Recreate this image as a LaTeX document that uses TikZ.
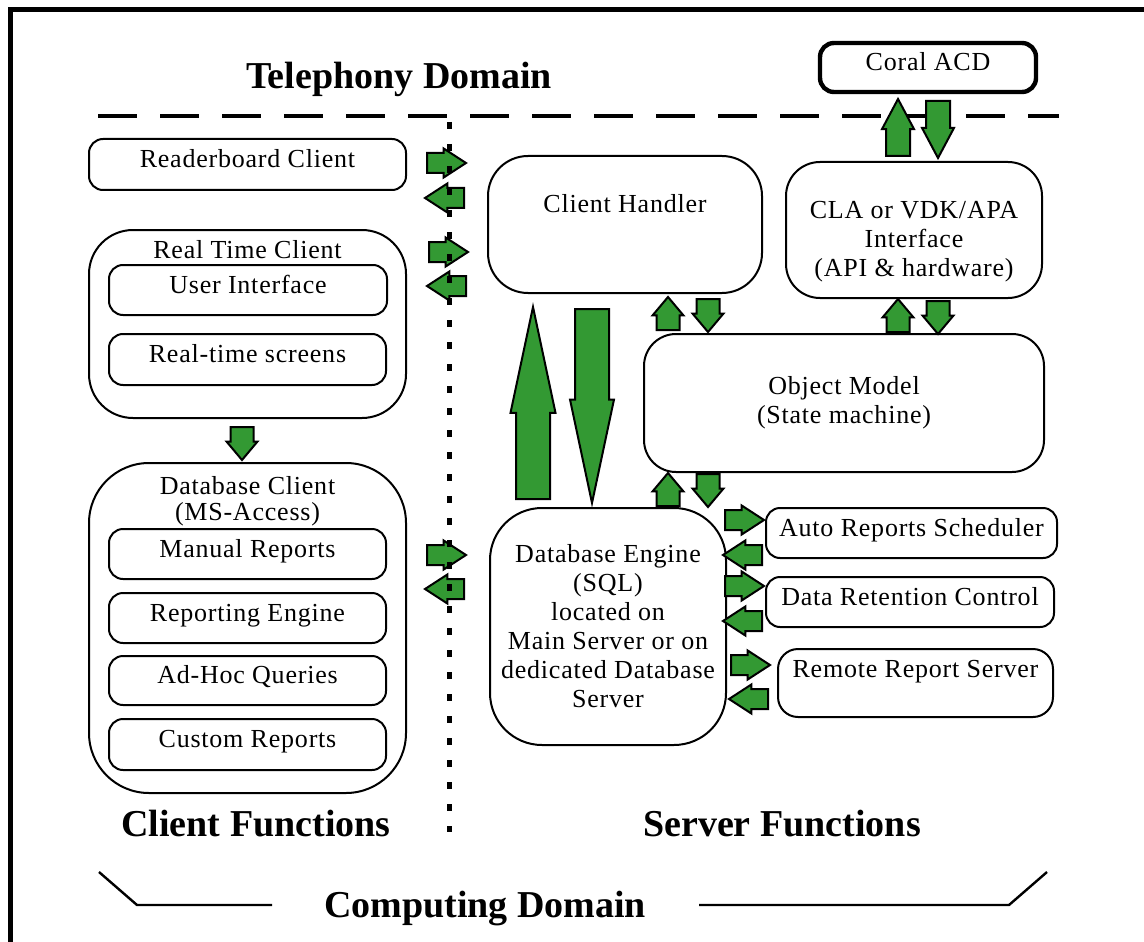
\documentclass[tikz,border=0pt]{standalone}
\usepackage{fontspec}
\setmainfont[LetterSpace=3]{Liberation Serif}
\newfontfamily\titlefont{Liberation Serif}
\usetikzlibrary{shapes.arrows}
\definecolor{flowgreen}{RGB}{51,153,51}

\begin{document}
\begin{tikzpicture}[x=0.5pt, y=-0.5pt,
    every node/.style={font=\fontsize{13}{14.5}\selectfont},
    unit/.style={draw, line width=1pt, rounded corners=7pt, inner sep=0pt, text height=9pt, text depth=6pt},
    block/.style={draw, line width=1pt, inner sep=0pt, align=center},
    title/.style={font=\titlefont\bfseries\fontsize{19}{22}\selectfont, inner sep=0pt, anchor=base},
    flow/.style={single arrow, draw, fill=flowgreen, line width=1pt, inner xsep=0pt, anchor=tail},
    hflow/.style={flow, minimum height=19.5pt, inner ysep=4.5pt, single arrow head extend=2.25pt, single arrow tip angle=66},
    vflow/.style={flow, minimum height=16.5pt, inner ysep=5.25pt, single arrow head extend=2pt, single arrow tip angle=80},
    acdflow/.style={flow, minimum height=28.5pt, inner ysep=5.5pt, single arrow head extend=2pt, single arrow tip angle=56},
    bigflow/.style={flow, inner ysep=8pt, single arrow head extend=2.75pt, single arrow tip angle=24}]

    \useasboundingbox (0,0) rectangle (1144,941);
    % frame and domain lines
    \draw[line width=2.5pt] (10,960) -- (10,10) -- (1160,10);
    \draw[line width=2pt, dash pattern=on 19.5pt off 11.5pt] (98,116) -- (1059,116);

    \node (tel) [title] at (399,89) {Telephony Domain};
    \node (coral) [unit, line width=2.2pt, minimum width=108pt, minimum height=24.5pt] at (928,67.5) {Coral ACD};

    % client side
    \node (reader) [unit, minimum width=158.5pt, minimum height=25.5pt] at (247.5,164.5) {Readerboard Client};
    \node (rtc) [block, rounded corners=22pt, minimum width=158.5pt, minimum height=94pt] at (247.5,324) {};
    \node (rtctitle) [anchor=base, inner sep=0pt] at (247.5,258) {Real Time Client};
    \node (ui) [unit, minimum width=139pt, minimum height=25pt] at (248,290) {User Interface};
    \node (screens) [unit, minimum width=138.5pt, minimum height=25.5pt] at (247.5,359.5) {Real-time screens};

    \node (dbc) [block, rounded corners=30pt, minimum width=158.5pt, minimum height=165pt] at (247.5,628) {};
    \node (dbctitle) [align=center, anchor=north, inner sep=0pt, font=\fontsize{13}{13}\selectfont] at (247.5,476) {Database Client\\(MS-Access)};
    \node (manual) [unit, minimum width=138.5pt, minimum height=25pt] at (247.5,554) {Manual Reports};
    \node (repeng) [unit, minimum width=138.5pt, minimum height=25pt] at (247.5,618) {Reporting Engine};
    \node (adhoc) [unit, minimum width=138.5pt, minimum height=24.5pt] at (247.5,680.5) {Ad-Hoc Queries};
    \node (custom) [unit, minimum width=138.5pt, minimum height=25.5pt] at (247.5,744.5) {Custom Reports};

    % server side
    \node (handler) [unit, rounded corners=20pt, text depth=20.5pt, minimum width=137pt, minimum height=68.5pt] at (625,224.5) {Client Handler};
    \node (cla) [block, rounded corners=17pt, minimum width=128pt, minimum height=68pt] at (914,230) {};
    \node (clatext) [align=center, anchor=north, inner sep=0pt] at (914,201) {CLA or VDK/APA\\Interface\\(API \& hardware)};
    \node (model) [block, rounded corners=16pt, minimum width=200pt, minimum height=69pt] at (844,403) {Object Model\\(State machine)};
    \node (engine) [block, rounded corners=26pt, minimum width=118pt, minimum height=118.5pt] at (608,626.5) {Database Engine\\(SQL)\\located on\\Main Server or on\\dedicated Database\\Server};
    \node (sched) [unit, minimum width=145.5pt, minimum height=25pt] at (911.5,533) {Auto Reports Scheduler};
    \node (retain) [unit, minimum width=144pt, minimum height=25pt] at (910,602) {Data Retention Control};
    \node (remote) [unit, rounded corners=10pt, text depth=15pt, minimum width=137.5pt, minimum height=34pt] at (915.5,683) {Remote Report Server};

    % flows
    \node (rdrout) [hflow] at (426,163) {};
    \node (rdrin) [hflow, rotate=180] at (465,198) {};
    \node (rtcout) [hflow] at (428,252) {};
    \node (rtcin) [hflow, rotate=180] at (467,286) {};
    \node (dbcout) [hflow] at (426,555) {};
    \node (dbcin) [hflow, rotate=180] at (465,589) {};
    \node (schedout) [hflow] at (724,520) {};
    \node (schedin) [hflow, rotate=180] at (763,555) {};
    \node (retout) [hflow] at (724,586) {};
    \node (retin) [hflow, rotate=180] at (763,621) {};
    \node (remout) [hflow] at (730,665) {};
    \node (remin) [hflow, rotate=180] at (769,699) {};

    \node (rtcdown) [vflow, rotate=-90] at (242,426) {};
    \node (hdlup) [vflow, rotate=90] at (668,331) {};
    \node (hdldown) [vflow, rotate=-90] at (708,298) {};
    \node (claup) [vflow, rotate=90] at (898,333) {};
    \node (cladown) [vflow, rotate=-90] at (938,300) {};
    \node (engup) [vflow, rotate=90] at (668,507) {};
    \node (engdown) [vflow, rotate=-90] at (708,473) {};
    \node (acdup) [acdflow, rotate=90] at (898,157) {};
    \node (acddown) [acdflow, rotate=-90] at (938,100) {};

    \node (bigup) [bigflow, minimum height=96pt, rotate=90] at (533,500) {};
    \node (bigdown) [bigflow, minimum height=97pt, single arrow head extend=2.5pt, rotate=-90] at (592,308) {};

    % client / server divider
    \draw[line width=2.5pt, dash pattern=on 3.5pt off 7.5pt] (449,122) -- (449,832);

    \node (cf) [title] at (256,836) {Client Functions};
    \node (sf) [title] at (782,836) {Server Functions};
    \node (cd) [title] at (485,917) {Computing Domain};
    \draw[line width=1.2pt] (99,872) -- (137,905) -- (272,905);
    \draw[line width=1.2pt] (699,905) -- (1009,905) -- (1047,872);
\end{tikzpicture}
\end{document}
